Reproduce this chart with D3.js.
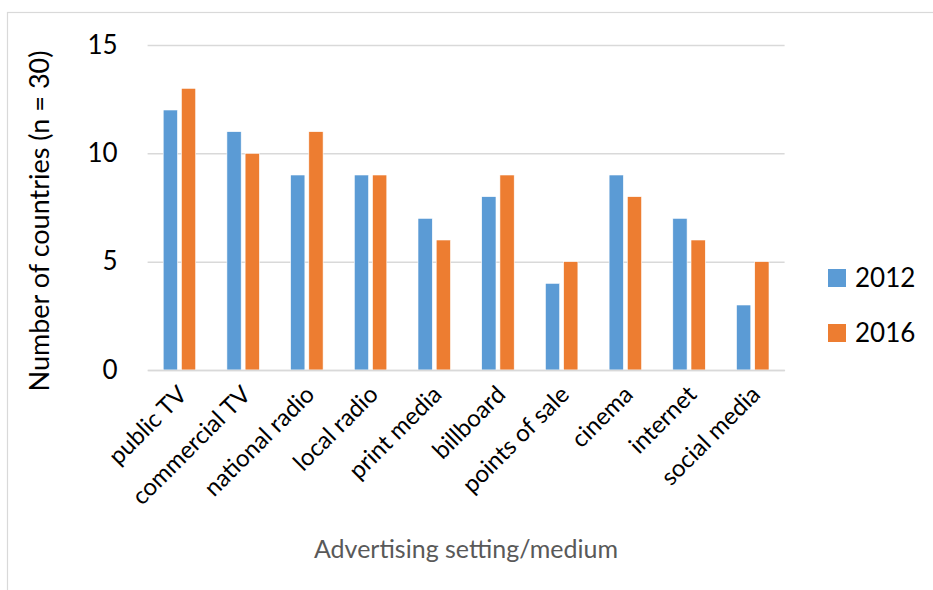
<!DOCTYPE html>
<html>
<head>
<meta charset="utf-8">
<script src="https://cdn.jsdelivr.net/npm/d3@7"></script>
<style>
  html, body { margin: 0; padding: 0; background: #fff; }
  svg { display: block; }
  text { font-family: Lato, "Open Sans", sans-serif; }
</style>
</head>
<body>
<svg id="chart" width="933" height="590"></svg>
<script>
const categories = ["public TV", "commercial TV", "national radio", "local radio", "print media", "billboard", "points of sale", "cinema", "internet", "social media"];
const seriesNames = ["2012", "2016"];
const values2012 = [12, 11, 9, 9, 7, 8, 4, 9, 7, 3];
const values2016 = [13, 10, 11, 9, 6, 9, 5, 8, 6, 5];
const yTicks = [0, 5, 10, 15];
const colors = ["#5b9bd5", "#ed7d31"];

const svg = d3.select("#chart");
const W = 933, H = 590;
const plot = { left: 147.6, right: 784.6, top: 45, bottom: 370 };

svg.append("rect").attr("x", 7.5).attr("y", 12.5).attr("width", W + 20).attr("height", H + 20)
  .attr("fill", "none").attr("stroke", "#d9d9d9").attr("stroke-width", 1.2);

const x = d3.scaleBand().domain(categories).range([plot.left, plot.right]).paddingInner(0).paddingOuter(0);
const y = d3.scaleLinear().domain([0, 15]).range([plot.bottom, plot.top]);
const barW = 14.5, gap = 3.5;
const xs = d3.scaleBand().domain(seriesNames).range([0, barW * 2 + gap]).paddingInner(gap / (barW * 2 + gap) * 2).paddingOuter(0);

// gridlines
const yAxis = d3.axisLeft(y).tickValues(yTicks).tickSize(-(plot.right - plot.left)).tickFormat(d3.format("d")).tickPadding(30);
const gy = svg.append("g").attr("transform", `translate(${plot.left},0)`).call(yAxis);
gy.select(".domain").remove();
gy.selectAll(".tick line").attr("stroke", "#d9d9d9").attr("stroke-width", 1.5);
gy.selectAll(".tick text").attr("font-size", 26).attr("fill", "#000").attr("font-family", "Lato, sans-serif");

// bars
const data = categories.map((c, i) => ({ c, vals: [values2012[i], values2016[i]] }));
const groups = svg.append("g").selectAll("g").data(data).join("g")
  .attr("transform", d => `translate(${x(d.c) + x.bandwidth() / 2 - (barW * 2 + gap) / 2},0)`);
groups.selectAll("rect").data(d => d.vals.map((v, k) => ({ v, k }))).join("rect")
  .attr("x", d => xs(seriesNames[d.k]))
  .attr("width", xs.bandwidth())
  .attr("y", d => y(d.v))
  .attr("height", d => y(0) - y(d.v))
  .attr("fill", d => colors[d.k])
  .attr("stroke", "#fff").attr("stroke-width", 0.6);

// x axis
const xAxis = d3.axisBottom(x).tickSize(0).tickPadding(0);
const gx = svg.append("g").attr("transform", `translate(0,${plot.bottom})`).call(xAxis);
gx.select(".domain").attr("stroke", "#d9d9d9").attr("stroke-width", 1.5);
gx.selectAll(".tick text")
  .attr("font-size", 24).attr("fill", "#000").attr("font-family", "Lato, sans-serif")
  .attr("text-anchor", "end")
  .attr("dy", 0)
  .attr("transform", "translate(9,26) rotate(-45)");

// axis titles
svg.append("text").attr("transform", `translate(49,221) rotate(-90)`)
  .attr("text-anchor", "middle").attr("font-size", 27).attr("fill", "#000")
  .text("Number of countries (n = 30)");
svg.append("text").attr("x", 466).attr("y", 558)
  .attr("text-anchor", "middle").attr("font-size", 25).attr("fill", "#595959")
  .text("Advertising setting/medium");

// legend
const lg = svg.append("g").selectAll("g").data(seriesNames).join("g")
  .attr("transform", (d, i) => `translate(828,${269 + i * 55})`);
lg.append("rect").attr("width", 18).attr("height", 18).attr("fill", (d, i) => colors[i]);
lg.append("text").attr("x", 27).attr("y", 9).attr("dy", "0.36em").attr("font-size", 26).attr("fill", "#000").text(d => d);
</script>
</body>
</html>
